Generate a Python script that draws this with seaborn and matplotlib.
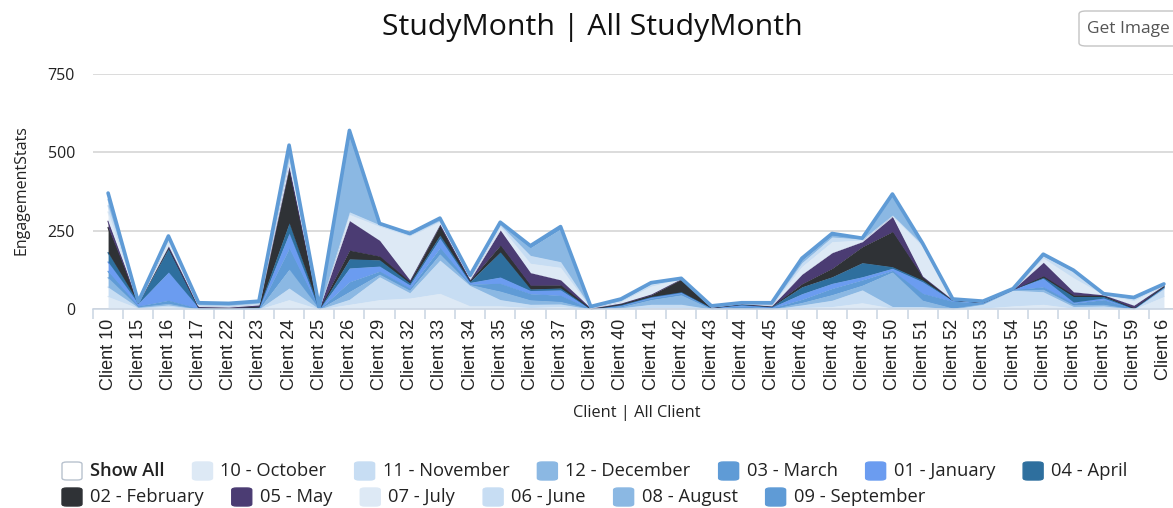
import numpy as np
import pandas as pd
import matplotlib
matplotlib.use("Agg")
import matplotlib.pyplot as plt
from matplotlib.patches import FancyBboxPatch
from matplotlib.ticker import FixedLocator
import seaborn as sns

# ---- data -------------------------------------------------------------
clients = ["Client 10", "Client 15", "Client 16", "Client 17", "Client 22", "Client 23",
           "Client 24", "Client 25", "Client 26", "Client 29", "Client 32", "Client 33",
           "Client 34", "Client 35", "Client 36", "Client 37", "Client 39", "Client 40",
           "Client 41", "Client 42", "Client 43", "Client 44", "Client 45", "Client 46",
           "Client 48", "Client 49", "Client 50", "Client 51", "Client 52", "Client 53",
           "Client 54", "Client 55", "Client 56", "Client 57", "Client 59", "Client 6"]

months = ["10 - October", "11 - November", "12 - December", "03 - March", "01 - January",
          "04 - April", "02 - February", "05 - May", "07 - July", "06 - June",
          "08 - August", "09 - September"]

october  = [40, 3, 8, 0, 0, 0, 30, 0, 15, 30, 35, 50, 10, 10, 5, 8, 0, 2, 5, 5, 0, 0, 0, 5, 8, 20, 3, 3, 0, 3, 10, 15, 3, 5, 0, 40]
november = [30, 2, 5, 0, 0, 0, 37, 0, 16, 73, 17, 106, 65, 20, 10, 8, 0, 2, 10, 10, 0, 0, 0, 8, 20, 41, 5, 5, 0, 12, 50, 40, 5, 5, 0, 25]
december = [30, 2, 5, 0, 0, 0, 60, 0, 25, 8, 8, 20, 3, 27, 14, 8, 0, 3, 15, 30, 0, 2, 0, 8, 18, 15, 110, 20, 3, 2, 1, 8, 5, 5, 0, 2]
march    = [20, 3, 10, 2, 1, 2, 67, 0, 31, 10, 7, 20, 2, 25, 20, 20, 0, 3, 5, 5, 3, 8, 4, 10, 20, 17, 5, 22, 22, 3, 1, 8, 6, 15, 1, 2]
january  = [30, 8, 90, 2, 1, 2, 48, 0, 44, 16, 10, 30, 5, 20, 10, 17, 0, 2, 3, 3, 1, 3, 2, 18, 16, 10, 7, 37, 2, 1, 1, 27, 3, 5, 0, 1]
april    = [30, 2, 75, 0, 0, 2, 33, 0, 29, 20, 6, 10, 3, 80, 5, 6, 0, 2, 2, 2, 0, 2, 2, 22, 21, 45, 5, 5, 1, 0, 0, 3, 18, 5, 1, 1]
february = [80, 0, 5, 2, 2, 3, 175, 2, 28, 12, 5, 32, 4, 22, 12, 10, 2, 3, 5, 40, 1, 1, 1, 10, 27, 51, 112, 10, 1, 1, 0, 5, 5, 3, 2, 4]
may      = [20, 0, 3, 2, 2, 4, 5, 1, 94, 50, 5, 3, 2, 48, 40, 16, 1, 2, 3, 2, 1, 1, 1, 30, 50, 16, 48, 3, 0, 0, 0, 43, 10, 2, 8, 1]
july     = [30, 1, 15, 3, 3, 3, 20, 0, 20, 45, 140, 8, 6, 12, 30, 40, 1, 5, 25, 0, 1, 1, 3, 25, 35, 5, 3, 95, 1, 1, 1, 14, 45, 1, 15, 1]
june     = [20, 1, 7, 3, 3, 3, 10, 0, 8, 5, 4, 4, 3, 5, 25, 18, 1, 3, 7, 0, 1, 1, 2, 12, 15, 3, 2, 5, 1, 0, 0, 6, 20, 1, 5, 1]
august   = [20, 1, 5, 3, 3, 3, 15, 0, 240, 2, 2, 4, 2, 4, 25, 105, 1, 2, 2, 0, 1, 0, 2, 8, 6, 2, 62, 3, 1, 1, 0, 3, 2, 1, 2, 1]
september = [20, 0, 5, 3, 3, 3, 23, 2, 20, 2, 2, 3, 3, 4, 6, 7, 2, 3, 2, 1, 1, 1, 3, 6, 5, 1, 5, 2, 0, 1, 1, 3, 2, 1, 3, 1]

y_ticks = [0, 250, 500, 750]

series = [october, november, december, march, january, april,
          february, may, july, june, august, september]

palette = ["#dde9f5", "#c7ddf3", "#8bb8e3", "#5f9bd6", "#6b9cf0", "#2e6f9e",
           "#2f3236", "#4b3c73", "#dde9f5", "#c7ddf3", "#8bb8e3", "#5f9bd6"]

# wide table, then stacked per client in series order
df = pd.DataFrame({m: v for m, v in zip(months, series)}, index=clients)
stacked = df.cumsum(axis=1)

# ---- figure -------------------------------------------------------------
sns.set_theme(style="white")
plt.rcParams["font.family"] = ["Open Sans", "DejaVu Sans"]

W, H = 1173, 508
fig = plt.figure(figsize=(W / 100, H / 100), dpi=100)


def fx(px):
    return px / W


def fy(py):
    return 1 - py / H


ax = fig.add_axes([fx(93), fy(309), fx(1179) - fx(93), fy(74) - fy(309)])
xpos = np.arange(len(clients))

lower = np.zeros(len(clients))
for i, (name, color) in enumerate(zip(months, palette)):
    upper = stacked[name].to_numpy(dtype=float)
    ax.fill_between(xpos, lower, upper, color=color, lw=0, zorder=2 + i * 0.01)
    lw = 2.6 if i == len(months) - 1 else 1.0
    sns.lineplot(x=xpos, y=upper, ax=ax, color=color, lw=lw, zorder=2.005 + i * 0.01,
                 legend=False)
    lower = upper

ax.set_xlim(-0.5, len(clients) - 0.5)
ax.set_ylim(0, 750)
ax.set_yticks(y_ticks)
ax.set_yticklabels([str(v) for v in y_ticks])
ax.yaxis.grid(True, color="#d2d2d2", lw=1.1)
ax.set_axisbelow(True)

ax.set_xticks(xpos)
ax.set_xticklabels(clients, rotation=90, fontsize=13, family="Liberation Sans",
                   color="#222222", va="top")
ax.xaxis.set_minor_locator(FixedLocator(np.arange(-0.5, len(clients), 1.0)))
ax.tick_params(axis="x", which="major", length=0, pad=7)
ax.tick_params(axis="x", which="minor", length=7, color="#c9d4e2", width=1.1, bottom=True)
ax.tick_params(axis="y", length=0, pad=13, labelsize=11.5, labelcolor="#222222")

for side in ["left", "right", "top"]:
    ax.spines[side].set_visible(False)
ax.spines["bottom"].set_color("#c9d4e2")
ax.spines["bottom"].set_linewidth(1.1)
ax.set_xlabel("")
ax.set_ylabel("")

# ---- titles --------------------------------------------------------------
fig.text(fx(592), fy(27), "StudyMonth | All StudyMonth", ha="center", va="center",
         fontsize=21.8, color="#111111")
fig.text(fx(22), fy(190), "EngagementStats", rotation=90, ha="center", va="center",
         fontsize=11.5, color="#222222")
fig.text(fx(637), fy(413), "Client | All Client", ha="center", va="center",
         fontsize=11.8, color="#222222")

# export button in the corner
btn = FancyBboxPatch((fx(1079), fy(46)), fx(1200) - fx(1079), fy(11) - fy(46),
                     boxstyle="round,pad=0,rounding_size=0.006", transform=fig.transFigure,
                     facecolor="white", edgecolor="#c4c4c4", lw=1.0)
fig.patches.append(btn)
fig.text(fx(1087), fy(29), "Get Image", ha="left", va="center", fontsize=12.5,
         color="#555555")

# ---- legend -----------------------------------------------------------------
renderer = fig.canvas.get_renderer()
legend_rows = [
    [("Show All", None)] + list(zip(months[:6], palette[:6])),
    list(zip(months[6:], palette[6:])),
]
row_y = [471, 497]
for row, py in zip(legend_rows, row_y):
    px = 62
    for label, color in row:
        face = "white" if color is None else color
        edge = "#b8c2ce" if color is None else color
        box = FancyBboxPatch((fx(px), fy(py + 9)), fx(20), fy(0) - fy(18),
                             boxstyle="round,pad=0,rounding_size=0.004",
                             transform=fig.transFigure, facecolor=face, edgecolor=edge,
                             lw=1.0)
        fig.patches.append(box)
        weight = "semibold" if color is None else "normal"
        t = fig.text(fx(px + 28), fy(py), label, ha="left", va="center", fontsize=13.2,
                     color="#222222", fontweight=weight)
        w = t.get_window_extent(renderer).width
        px = px + 28 + w + 28

fig.savefig("out.png", dpi=100, facecolor="white")
